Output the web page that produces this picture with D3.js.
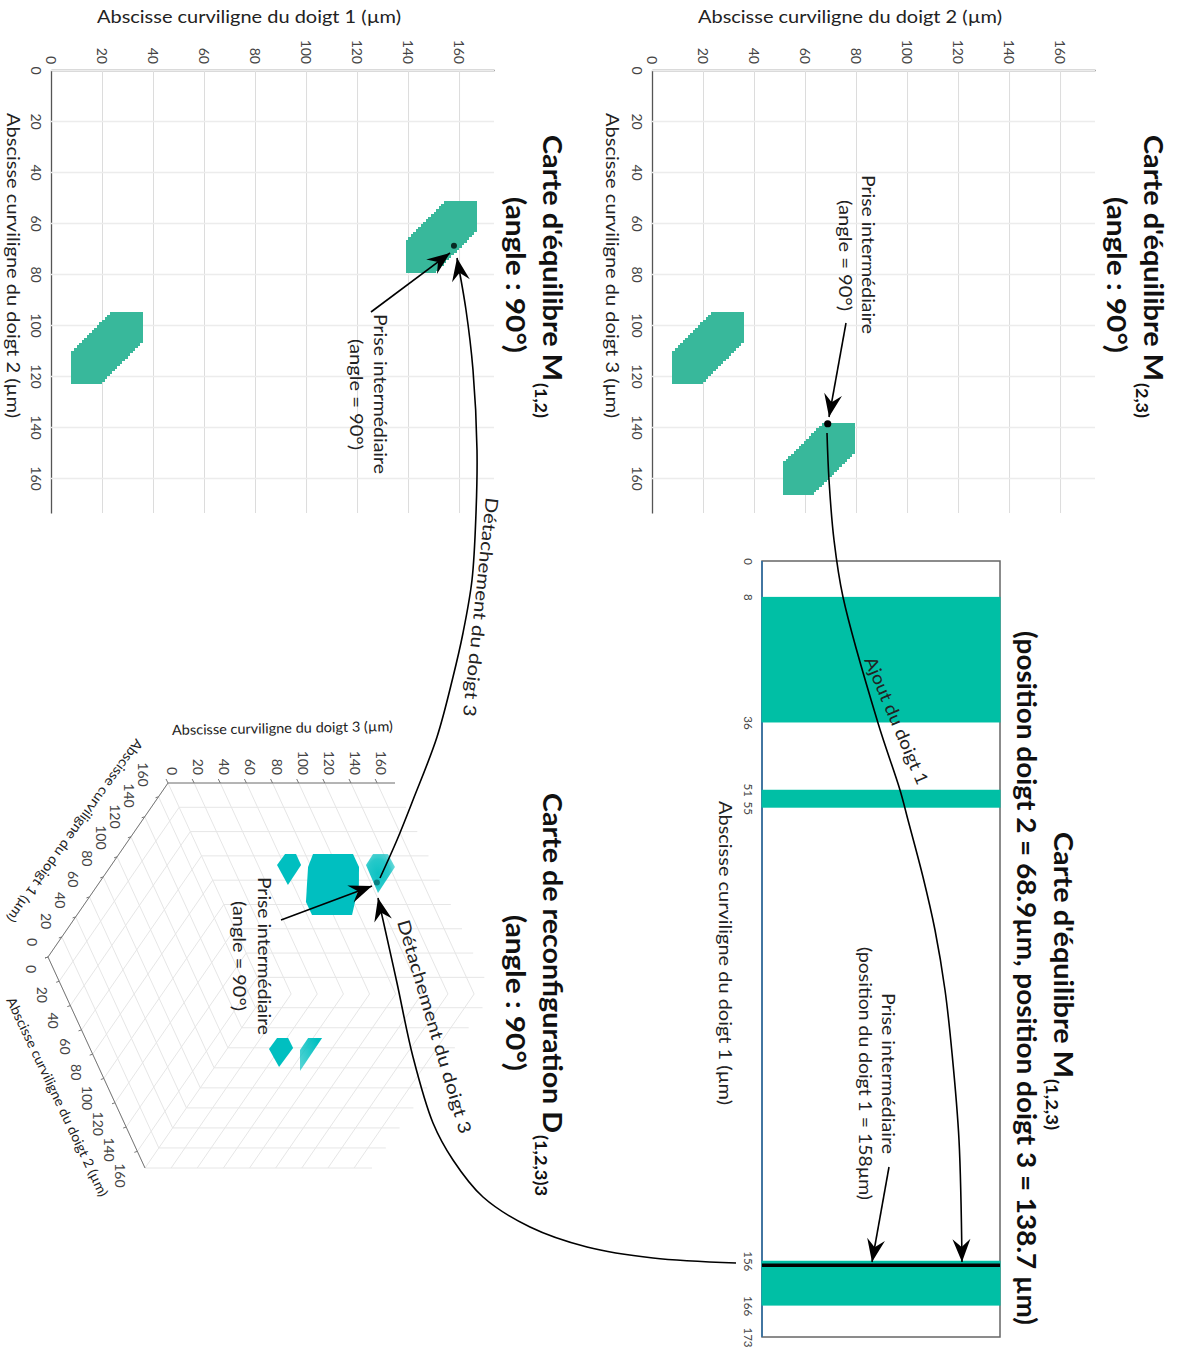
<!DOCTYPE html>
<html>
<head>
<meta charset="utf-8">
<script src="https://cdn.jsdelivr.net/npm/d3@7"></script>
<style>
  body { margin: 0; background: #fff; }
  text { font-family: 'Lato', 'Open Sans', sans-serif; }
</style>
</head>
<body>
<div id="container"></div>
<script>
// values (all in micrometres)
const axisMax = 173.7;
const tickValues = [0, 20, 40, 60, 80, 100, 120, 140, 160];

// equilibrium regions: lower corner of each hexagon
const mapAx = [8, 51.5];     // doigt 2
const mapAy = [95, 138.5];   // doigt 3
const mapBx = [8, 139];      // doigt 1
const mapBy = [95, 51.5];    // doigt 2
const regionSize = 28;
const regionCut = 12;

// 1D map
const bandTicks = [0, 8, 36, 51, 55, 156, 166, 173];
const bandStarts = [8, 51, 156];
const bandEnds = [36, 55, 166];
const heldPosition = 157;

// intermediate grasp
const grasp = [158, 68.9, 138.7]; // doigt 1, 2, 3

// 3D map, outlines as [doigt 1, doigt 2, doigt 3]
const blobSmallTop = [[120, 23.2, 101.9], [120, 14.2, 111.9], [120, 14.2, 120.3], [120, 23.2, 120.3], [120, 39.7, 103.2]];
const blobBigTop = [[120, 14.2, 133.3], [120, 14.2, 163.9], [120, 24.9, 163.9], [120, 39.7, 157.5], [120, 64.4, 141.7], [120, 64.4, 111.1], [120, 53.7, 111], [120, 24.9, 124.9]];
const blobFadedTop = [[150, 48, 143.5], [150, 38.9, 152.8], [150, 38.9, 164.2], [150, 49.6, 165], [150, 71, 142.9]];
const blobSmallLow = [[40, 108.7, 101.5], [40, 99.7, 111.5], [40, 99.7, 120], [40, 107.9, 120.3], [40, 123.5, 102.9]];
const blobFadedLow = [[40, 109.5, 124.9], [40, 99.7, 135.3], [40, 99.7, 146], [40, 126.8, 117.5]];

const width = 1177, height = 1350;
const svg = d3.select('#container').append('svg')
  .attr('width', width).attr('height', height)
  .style('display', 'block');

const defs = svg.append('defs');
const fade = defs.append('radialGradient').attr('id', 'fade').attr('cx', '0.42').attr('cy', '0.5').attr('r', '0.62');
fade.append('stop').attr('offset', '0').attr('stop-color', '#00bfc0').attr('stop-opacity', 0.95);
fade.append('stop').attr('offset', '0.6').attr('stop-color', '#00bfc0').attr('stop-opacity', 0.85);
fade.append('stop').attr('offset', '1').attr('stop-color', '#00bfc0').attr('stop-opacity', 0.55);
const fadeLow = defs.append('linearGradient').attr('id', 'fadeLow').attr('x1', '0').attr('x2', '1').attr('y1', '1').attr('y2', '0.4');
fadeLow.append('stop').attr('offset', '0').attr('stop-color', '#00bfc0').attr('stop-opacity', 0.65);
fadeLow.append('stop').attr('offset', '1').attr('stop-color', '#00bfc0').attr('stop-opacity', 1);

// text helper: x,y is the start of the baseline
const label = (str, x, y, angle, size, len, weight, fill) => {
  const t = svg.append('text')
    .attr('transform', `translate(${x},${y}) rotate(${angle})`)
    .attr('font-size', size)
    .attr('font-weight', weight || 400)
    .attr('fill', fill || '#222')
    .text(str);
  if (len) t.attr('textLength', len).attr('lengthAdjust', 'spacingAndGlyphs');
  return t;
};

// 2D equilibrium maps
const drawMap = (left, xStarts, yStarts, colour) => {
  const top = 70;
  const x = d3.scaleLinear().domain([0, axisMax]).range([left, left + 443]);
  const y = d3.scaleLinear().domain([0, axisMax]).range([top, top + 443]);

  const gx = svg.append('g').attr('transform', `translate(0,${top})`)
    .call(d3.axisTop(x).tickValues(tickValues).tickSize(-443).tickSizeOuter(0));
  const gy = svg.append('g').attr('transform', `translate(${left},0)`)
    .call(d3.axisLeft(y).tickValues(tickValues).tickSize(-443).tickSizeOuter(0));

  gx.selectAll('.tick line').attr('stroke', '#dcdcdc').attr('stroke-width', 1);
  gy.selectAll('.tick line').attr('stroke', '#ececec').attr('stroke-width', 1.5);
  gx.select('.domain').attr('stroke', '#555').attr('stroke-width', 1.3);
  gy.select('.domain').attr('stroke', '#555').attr('stroke-width', 1.3);

  gx.selectAll('.tick text')
    .attr('transform', 'translate(-5.5,-6) rotate(90)')
    .attr('x', 0).attr('y', 0).attr('dy', 0)
    .attr('text-anchor', 'end')
    .attr('font-size', 14).attr('fill', '#444');
  gy.selectAll('.tick text')
    .attr('transform', 'translate(-20.5,0) rotate(90)')
    .attr('x', 0).attr('y', 0).attr('dy', 0)
    .attr('text-anchor', 'middle')
    .attr('font-size', 14).attr('fill', '#444');

  // each region is a stack of 1 µm rows, which gives the stepped edge
  xStarts.forEach((x0, i) => {
    const y0 = yStarts[i];
    const rows = d3.range(regionSize);
    svg.append('g').selectAll('rect').data(rows).join('rect')
      .attr('x', r => x(x0 + Math.max(0, regionSize - regionCut - r - 1)))
      .attr('y', r => y(y0 + r))
      .attr('width', r => x(x0 + regionSize - Math.max(0, r - regionCut + 1)) - x(x0 + Math.max(0, regionSize - regionCut - r - 1)))
      .attr('height', y(1) - y(0) + 0.4)
      .attr('fill', colour)
      .attr('shape-rendering', 'crispEdges');
  });
  return { x, y };
};

const mapA = drawMap(652, mapAx, mapAy, '#38b89b');
const mapB = drawMap(51, mapBx, mapBy, '#38b89b');

// 1D map
const bandY = d3.scaleLinear().domain([0, 173]).range([561, 1337]);
const bandLeft = 762, bandRight = 1000;
svg.append('rect').attr('x', bandLeft).attr('y', 561).attr('width', bandRight - bandLeft).attr('height', 776)
  .attr('fill', 'none').attr('stroke', '#666').attr('stroke-width', 1.5);
svg.append('line').attr('x1', bandLeft).attr('x2', bandLeft).attr('y1', 561).attr('y2', 1337)
  .attr('stroke', '#2a6fa8').attr('stroke-width', 1.5);
svg.append('g').selectAll('rect').data(bandStarts).join('rect')
  .attr('x', bandLeft - 0.5)
  .attr('width', bandRight - bandLeft + 1)
  .attr('y', d => bandY(d))
  .attr('height', (d, i) => bandY(bandEnds[i]) - bandY(d))
  .attr('fill', '#00bfa5');
svg.append('line').attr('x1', bandLeft).attr('x2', bandRight)
  .attr('y1', bandY(heldPosition)).attr('y2', bandY(heldPosition))
  .attr('stroke', '#000').attr('stroke-width', 3.6);
const bandAxis = svg.append('g').attr('transform', `translate(${bandLeft},0)`)
  .call(d3.axisLeft(bandY).tickValues(bandTicks).tickSize(0).tickFormat(d3.format('d')));
bandAxis.select('.domain').remove();
bandAxis.selectAll('.tick text')
  .attr('transform', 'translate(-18,0) rotate(90)')
  .attr('x', 0).attr('y', 0).attr('dy', 0)
  .attr('text-anchor', 'middle')
  .attr('font-size', 11.5).attr('fill', '#444');

// 3D map
const originX = 48, originY = 957;
const s1x = d3.scaleLinear().domain([0, axisMax]).range([0, 120]);
const s1y = d3.scaleLinear().domain([0, axisMax]).range([0, -174]);
const s2x = d3.scaleLinear().domain([0, axisMax]).range([0, 97]);
const s2y = d3.scaleLinear().domain([0, axisMax]).range([0, 211]);
const s3x = d3.scaleLinear().domain([0, axisMax]).range([0, 227]);
const project = ([a, b, c]) => [originX + s1x(a) + s2x(b) + s3x(c), originY + s1y(a) + s2y(b)];

const m = axisMax;
const gridSegments = [];
tickValues.forEach(t => {
  gridSegments.push([[t, 0, 0], [t, m, 0]], [[0, t, 0], [m, t, 0]]);         // plane doigt 3 = 0
  gridSegments.push([[m, t, 0], [m, t, m]], [[m, 0, t], [m, m, t]]);         // plane doigt 1 = max
  gridSegments.push([[t, m, 0], [t, m, m]], [[0, m, t], [m, m, t]]);         // plane doigt 2 = max
});
const line3d = d3.line().x(p => project(p)[0]).y(p => project(p)[1]);
svg.append('g').selectAll('path').data(gridSegments).join('path')
  .attr('d', line3d).attr('fill', 'none').attr('stroke', '#e6e6e6').attr('stroke-width', 1);

const axes3d = [[[m, 0, 0], [m, 0, m]], [[0, 0, 0], [m, 0, 0]], [[0, 0, 0], [0, m, 0]]];
svg.append('g').selectAll('path').data(axes3d).join('path')
  .attr('d', line3d).attr('fill', 'none').attr('stroke', '#777').attr('stroke-width', 1);

const tick3 = svg.append('g');
tickValues.forEach(t => {
  const pa = project([m, 0, t]);
  tick3.append('line').attr('x1', pa[0]).attr('y1', pa[1]).attr('x2', pa[0] - 2).attr('y2', pa[1] - 4).attr('stroke', '#777');
  label(t, pa[0] - 1, pa[1] - 8, 90, 14, null, 400, '#444').attr('text-anchor', 'end');
  const pb = project([t, 0, 0]);
  tick3.append('line').attr('x1', pb[0]).attr('y1', pb[1]).attr('x2', pb[0] - 3).attr('y2', pb[1] + 1).attr('stroke', '#777');
  label(t, pb[0] - 21, pb[1] - 15 - t * 0.045, 90, 14, null, 400, '#444').attr('text-anchor', 'middle');
  const pc = project([0, t, 0]);
  tick3.append('line').attr('x1', pc[0]).attr('y1', pc[1]).attr('x2', pc[0] - 3).attr('y2', pc[1] + 1).attr('stroke', '#777');
  label(t, pc[0] - 22, pc[1] + 12 + t * 0.075, 90, 14, null, 400, '#444').attr('text-anchor', 'middle');
});

const outline = pts => d3.line()(pts.map(project)) + 'Z';
[[blobSmallTop, '#00bfc0'], [blobBigTop, '#00bfc0'], [blobFadedTop, 'url(#fade)'], [blobSmallLow, '#00bfc0'], [blobFadedLow, 'url(#fadeLow)']]
  .forEach(([pts, fill]) => {
    svg.append('path').attr('d', outline(pts)).attr('fill', fill);
  });

// markers for the intermediate grasp
const dotA = [mapA.x(grasp[1]), mapA.y(grasp[2])];
const dotB = [mapB.x(grasp[0]), mapB.y(grasp[1])];
const dotC = project(grasp);
svg.append('circle').attr('cx', dotA[0]).attr('cy', dotA[1]).attr('r', 3.6).attr('fill', '#000');
svg.append('circle').attr('cx', dotB[0]).attr('cy', dotB[1]).attr('r', 3).attr('fill', '#082b24');
svg.append('circle').attr('cx', dotC[0]).attr('cy', dotC[1]).attr('r', 3).attr('fill', '#0a7f80');

// annotation curves, page coordinates
const curve = d3.line().curve(d3.curveCatmullRom.alpha(0.5));
const arrowHead = (tip, from) => {
  const a = Math.atan2(tip[1] - from[1], tip[0] - from[0]) * 180 / Math.PI;
  svg.append('path')
    .attr('d', 'M0,0L-23,9L-15,0L-23,-9Z')
    .attr('transform', `translate(${tip[0]},${tip[1]}) rotate(${a})`)
    .attr('fill', '#000');
};
const arrow = (pts, head) => {
  svg.append('path').attr('d', curve(pts)).attr('fill', 'none').attr('stroke', '#000').attr('stroke-width', 1.6);
  if (head) arrowHead(pts[pts.length - 1], pts[pts.length - 2]);
};

arrow([[846, 323], [829, 417]], true);
arrow([[371, 312], [450, 253]], true);
arrow([[281, 920], [372, 886]], true);
arrow([[889, 1167], [872, 1262]], true);
// Ajout du doigt 1
arrow([[827, 433], [829, 480], [834, 540], [843, 597], [878, 723], [900, 790], [908, 820], [923, 877], [935, 930], [945, 990], [952, 1053], [959, 1140], [962, 1262]], true);
// Détachement du doigt 3, map 1D to 3D
arrow([[736, 1263], [653, 1258], [587, 1247], [530, 1227], [483, 1197], [453, 1160], [433, 1123], [413, 1057], [397, 983], [383, 920], [378, 898]], true);
// Détachement du doigt 3, 3D to map M(1,2)
arrow([[380, 878], [397, 840], [413, 800], [437, 737], [453, 677], [463, 633], [472, 580], [476, 513], [477, 450], [473, 370], [466, 310], [457, 258]], true);

// titles
const titleSize = 26;
[[1144, 1107, '(2,3)'], [543, 506, '(1,2)']].forEach(([b1, b2, sub]) => {
  label("Carte d'équilibre M", b1, 135, 90, titleSize, 246, 700, '#111');
  label(sub, b1 - 8, 383, 90, 17, 35, 700, '#111');
  label('(angle : 90°)', b2, 197, 90, titleSize, 156, 700, '#111');
});
label("Carte d'équilibre M", 1054, 832, 90, titleSize, 246, 700, '#111');
label('(1,2,3)', 1046, 1079, 90, 17, 51, 700, '#111');
label('(position doigt 2 = 68.9µm, position doigt 3 = 138.7 µm)', 1017, 631, 90, titleSize, 694, 700, '#111');
label('Carte de reconfiguration D', 543, 793, 90, titleSize, 340, 700, '#111');
label('(1,2,3)3', 535, 1135, 90, 17, 61, 700, '#111');
label('(angle : 90°)', 506, 915, 90, titleSize, 156, 700, '#111');

// axis titles
const axisSize = 18;
label('Abscisse curviligne du doigt 2 (µm)', 698, 23, 0, axisSize, 304);
label('Abscisse curviligne du doigt 3 (µm)', 606, 113, 90, axisSize, 305);
label('Abscisse curviligne du doigt 1 (µm)', 97, 23, 0, axisSize, 304);
label('Abscisse curviligne du doigt 2 (µm)', 7, 113, 90, axisSize, 305);
label('Abscisse curviligne du doigt 1 (µm)', 719, 801, 90, axisSize, 304);
label('Abscisse curviligne du doigt 3 (µm)', 172, 735, -1, 14, 221);
label('Abscisse curviligne du doigt 1 (µm)', 136, 738, 125.8, 13.5, 222);
label('Abscisse curviligne du doigt 2 (µm)', 6, 1000, 64.6, 13.5, 219);

// annotations
const noteSize = 17.5;
label('Prise intermédiaire', 862, 175, 90, noteSize, 159);
label('(angle = 90°)', 839, 200, 90, noteSize, 111);
label('Prise intermédiaire', 374, 314, 90, noteSize, 160);
label('(angle = 90°)', 350, 339, 90, noteSize, 111);
label('Prise intermédiaire', 258, 877, 90, noteSize, 158);
label('(angle = 90°)', 233, 901, 90, noteSize, 110);
label('Prise intermédiaire', 882, 993, 90, noteSize, 161);
label('(position du doigt 1 = 158µm)', 859, 947, 90, noteSize, 253);
label('Ajout du doigt 1', 864, 660, 67, noteSize, 137);
label('Détachement du doigt 3', 486, 497, 96, noteSize, 220);
label('Détachement du doigt 3', 397, 922, 73.5, noteSize, 222);
</script>
</body>
</html>
